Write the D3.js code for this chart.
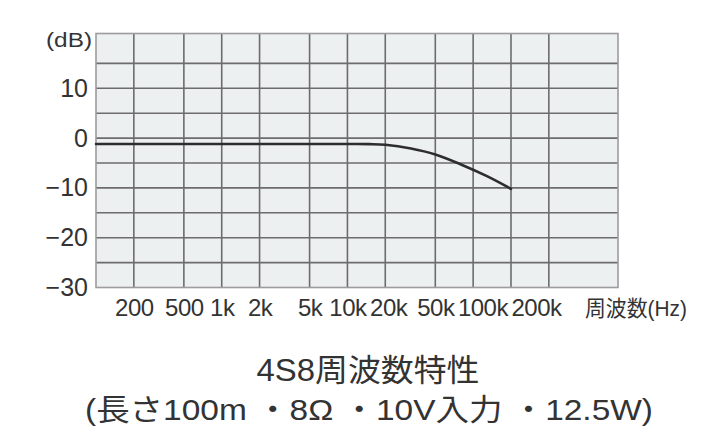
<!DOCTYPE html>
<html><head><meta charset="utf-8">
<script src="https://cdn.jsdelivr.net/npm/d3@7"></script>
<style>
body{margin:0;background:#fff}
text{font-family:"Liberation Sans","Noto Sans CJK JP",sans-serif;fill:#333}
</style></head>
<body><svg id="c" width="720" height="443"></svg>
<script>
// ---- data ----
const freqGrid = [200, 500, 1000, 2000, 5000, 10000, 20000, 50000, 100000, 200000, 400000];
const freqTicks = [200, 500, 1000, 2000, 5000, 10000, 20000, 50000, 100000, 200000];
const freqTickLabels = ["200", "500", "1k", "2k", "5k", "10k", "20k", "50k", "100k", "200k"];
const dbGrid = [-25, -20, -15, -10, -5, 0, 5, 10, 15];
const dbTicks = [10, 0, -10, -20, -30];
const dbTickLabels = ["10", "0", "\u221210", "\u221220", "\u221230"];
const curveFreq = [100, 1000, 10000, 15000, 20000, 32000, 50000, 80000, 130000, 200000];
const curveDb = [-1.2, -1.2, -1.2, -1.22, -1.35, -2.1, -3.3, -5.3, -7.7, -10.2];
const xDomain = [100, 1420000];
const yDomain = [-30, 21];
const yUnit = "(dB)";
const xUnit = "周波数(Hz)";
const title1 = "4S8周波数特性";
const title2 = "(長さ100m ・8Ω ・10V入力 ・12.5W)";

// ---- layout ----
const L = 96, R = 618, T = 33.5, B = 287.5;
const svg = d3.select("#c");
const x = d3.scaleLog().domain(xDomain).range([L, R]);
const y = d3.scaleLinear().domain(yDomain).range([B, T]);

svg.append("rect").attr("x", L).attr("y", T).attr("width", R - L).attr("height", B - T)
  .attr("fill", "#edf0f0");

const grid = svg.append("g").attr("stroke", "#6c6c6c").attr("stroke-width", 1.6);
grid.selectAll("line.v").data(freqGrid).join("line").attr("class", "v")
  .attr("x1", d => x(d)).attr("x2", d => x(d)).attr("y1", T).attr("y2", B);
grid.selectAll("line.h").data(dbGrid).join("line").attr("class", "h")
  .attr("x1", L).attr("x2", R).attr("y1", d => y(d)).attr("y2", d => y(d));

svg.append("rect").attr("x", L).attr("y", T).attr("width", R - L).attr("height", B - T)
  .attr("fill", "none").attr("stroke", "#9c9c9c").attr("stroke-width", 1.6);

// curve
const pts = curveFreq.map((f, i) => [f, curveDb[i]]);
svg.append("path").datum(pts)
  .attr("d", d3.line().x(d => x(d[0])).y(d => y(d[1])).curve(d3.curveCatmullRom.alpha(0.5)))
  .attr("fill", "none").attr("stroke", "#2d2d2d").attr("stroke-width", 2.6)
  .attr("stroke-linecap", "round");

// y axis
const ya = svg.append("g").attr("transform", `translate(${L},0)`)
  .call(d3.axisLeft(y).tickValues(dbTicks).tickSize(0).tickPadding(8)
    .tickFormat((d, i) => dbTickLabels[i]));
ya.select(".domain").remove();
ya.selectAll("text").style("font-size", "25px").attr("fill", "#333")
  .style("font-family", "'Liberation Sans',sans-serif");

svg.append("text").attr("x", 92).attr("y", 47).attr("text-anchor", "end")
  .style("font-size", "20px").attr("textLength", 46).attr("lengthAdjust", "spacingAndGlyphs")
  .text(yUnit);

// x axis
const xa = svg.append("g").attr("transform", `translate(0,${B})`)
  .call(d3.axisBottom(x).tickValues(freqTicks).tickSize(0).tickPadding(11.5)
    .tickFormat((d, i) => freqTickLabels[i]));
xa.select(".domain").remove();
xa.selectAll("text").style("font-size", "24px").attr("fill", "#333")
  .style("font-family", "'Liberation Sans Narrow','Arial Narrow',sans-serif")
  .style("letter-spacing", "-0.5px");
// avoid overlap of crowded labels
let prevRight = -Infinity;
xa.selectAll(".tick").each(function () {
  const t = d3.select(this).select("text");
  const bb = this.getBBox();
  const tx = d3.select(this).attr("transform");
  const cx = +tx.match(/translate\(([-\d.]+)/)[1];
  const left = cx + bb.x;
  if (left < prevRight + 2) {
    const shift = prevRight + 2 - left;
    t.attr("dx", shift);
    prevRight = cx + bb.x + bb.width + shift;
  } else prevRight = cx + bb.x + bb.width;
});

svg.append("text").attr("x", 636).attr("y", 316).attr("text-anchor", "middle")
  .style("font-size", "22px").attr("textLength", 102).attr("lengthAdjust", "spacingAndGlyphs")
  .text(xUnit);

// titles
svg.append("text").attr("x", 368).attr("y", 381).attr("text-anchor", "middle")
  .style("font-size", "31px").attr("textLength", 223).attr("lengthAdjust", "spacingAndGlyphs")
  .text(title1);
svg.append("text").attr("x", 369).attr("y", 420).attr("text-anchor", "middle")
  .style("font-size", "30px").style("white-space", "pre")
  .attr("textLength", 568).attr("lengthAdjust", "spacingAndGlyphs")
  .text(title2);
</script></body></html>
